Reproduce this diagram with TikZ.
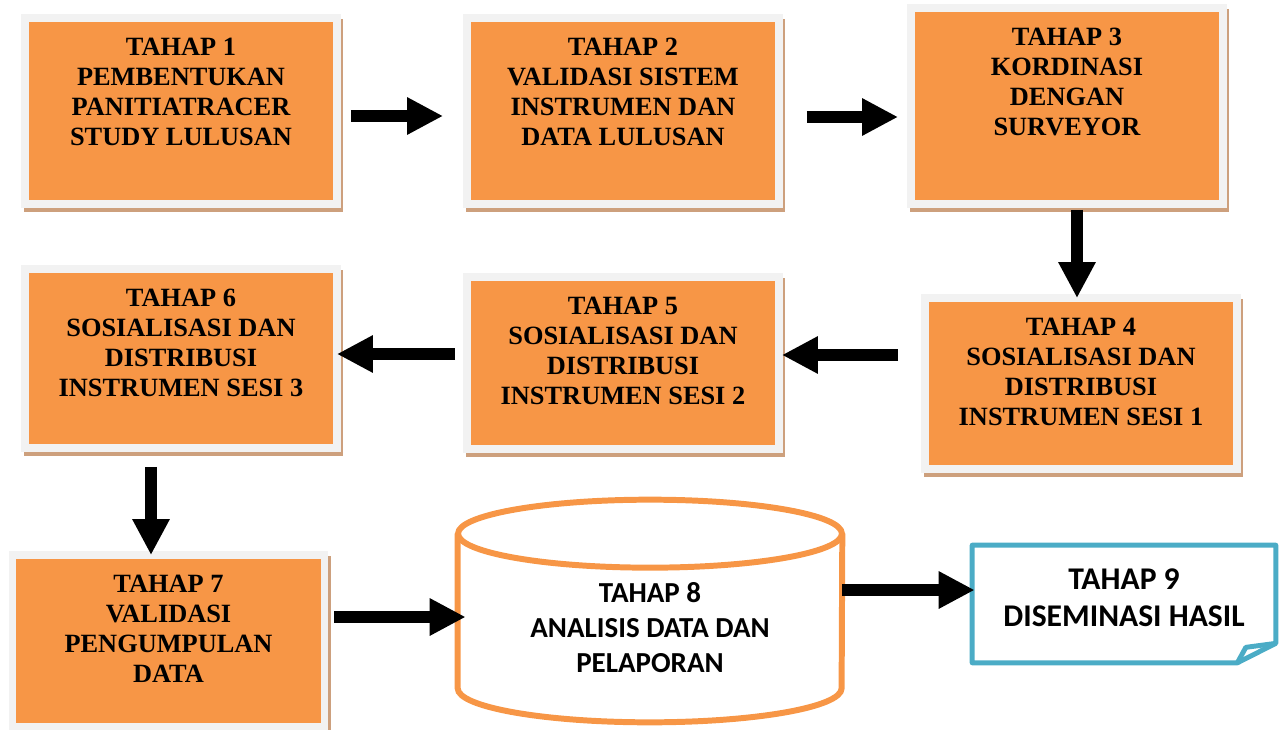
\documentclass[tikz,border=0pt]{standalone}
\usepackage{fontspec}
\setmainfont{Liberation Serif}
\newfontfamily\calibrifont{Carlito}
\usetikzlibrary{arrows.meta}
\usetikzlibrary{shadows}

\definecolor{stageorange}{RGB}{247,150,70}
\definecolor{framegrey}{RGB}{242,242,242}
\definecolor{shadowtan}{RGB}{205,160,125}
\definecolor{foldblue}{RGB}{75,172,198}

\newcommand{\stagetext}[2]{\parbox[c][#1][t]{6.24cm}{\fontsize{15pt}{17pt}\selectfont\bfseries\centering\vspace*{11.5pt}#2}}

\tikzset{
  stagebox/.style={draw=framegrey, line width=4.5pt, fill=stageorange, inner sep=0pt,
    drop shadow={shadow xshift=0.05cm, shadow yshift=-0.09cm, fill=shadowtan, draw=shadowtan, opacity=1}},
  blockarrow/.style={line width=6.8pt, -{Triangle[length=0.72cm, width=0.7cm]}},
  cylline/.style={draw=stageorange, line width=3.4pt},
  foldline/.style={draw=foldblue, line width=2.8pt, line join=round},
}

\begin{document}
\begin{tikzpicture}[x=0.02cm, y=-0.02cm]
\useasboundingbox (0,0) rectangle (1282,730);

\node[stagebox] (b1) at (181,111) {\stagetext{3.72cm}{TAHAP 1\\PEMBENTUKAN\\PANITIATRACER\\STUDY LULUSAN}};
\node[stagebox] (b2) at (623,111) {\stagetext{3.72cm}{TAHAP 2\\VALIDASI SISTEM\\INSTRUMEN DAN\\DATA LULUSAN}};
\node[stagebox] (b3) at (1067,106) {\stagetext{3.92cm}{TAHAP 3\\KORDINASI\\DENGAN\\SURVEYOR}};

\node[stagebox] (b4) at (1081,383.5) {\stagetext{3.42cm}{TAHAP 4\\SOSIALISASI DAN\\DISTRIBUSI\\INSTRUMEN SESI 1}};
\node[stagebox] (b5) at (623,363) {\stagetext{3.44cm}{TAHAP 5\\SOSIALISASI DAN\\DISTRIBUSI\\INSTRUMEN SESI 2}};
\node[stagebox] (b6) at (181,358.5) {\stagetext{3.58cm}{TAHAP 6\\SOSIALISASI DAN\\DISTRIBUSI\\INSTRUMEN SESI 3}};

\node[stagebox] (b7) at (168.5,641) {\stagetext{3.44cm}{TAHAP 7\\VALIDASI\\PENGUMPULAN\\DATA}};

% tahap 8 (silinder)
\node[inner sep=0pt, minimum width=7.68cm, minimum height=3.08cm] (t8) at (650,611)
  {\parbox[c][2.48cm][b]{7.6cm}{\calibrifont\fontsize{16.5pt}{20pt}\selectfont\bfseries\centering TAHAP 8\\ANALISIS DATA DAN\\PELAPORAN}};
\draw[cylline] (t8.north west) -- (t8.south west) arc[start angle=180, end angle=360, x radius=3.84cm, y radius=0.68cm] -- (t8.north east);
\draw[cylline] (t8.north) ellipse[x radius=3.84cm, y radius=0.68cm];

% tahap 9 (sudut terlipat)
\node[inner sep=0pt, minimum width=6.06cm, minimum height=2.34cm] (t9) at (1124,604)
  {\parbox[c][2.34cm][t]{6.06cm}{\calibrifont\fontsize{18pt}{21pt}\selectfont\bfseries\centering\vspace*{13.5pt}TAHAP 9\\DISEMINASI HASIL}};
\draw[foldline] (t9.north west) -- (t9.north east) -- ([yshift=0.39cm]t9.south east) -- ([xshift=-0.77cm]t9.south east) -- (t9.south west) -- cycle;
\draw[foldline] ([xshift=-0.77cm]t9.south east) .. controls ([xshift=-0.66cm, yshift=0.2cm]t9.south east) .. ([xshift=-0.6cm, yshift=0.31cm]t9.south east) -- ([yshift=0.39cm]t9.south east);

\coordinate (p12) at ([yshift=-0.1cm]b2.west);
\coordinate (p23) at ([yshift=-0.12cm]b2.east);
\coordinate (p34) at ([xshift=0.2cm]b3.south);
\coordinate (p45) at ([yshift=0.16cm]b5.east);
\coordinate (p56) at ([yshift=0.18cm]b5.west);
\coordinate (p67) at ([xshift=-0.6cm]b6.south);
\coordinate (p78) at ([yshift=-0.12cm]t8.west);
\coordinate (p89) at ([yshift=0.42cm]t8.east);

\draw[blockarrow, shorten <=0.2cm, shorten >=0.4cm] (b1.east |- p12) -- (p12);
\draw[blockarrow, shorten <=0.48cm, shorten >=0.18cm] (p23) -- (p23 -| b3.west);
\draw[blockarrow, shorten <=0.04cm, shorten >=-0.08cm] (p34) -- (p34 |- b4.north);
\draw[blockarrow, shorten <=0.46cm, shorten >=-0.02cm] (p45 -| b4.west) -- (p45);
\draw[blockarrow, shorten <=0.16cm, shorten >=-0.08cm] (p56) -- (p56 -| b6.east);
\draw[blockarrow, shorten <=0.3cm, shorten >=-0.08cm] (p67) -- (p67 |- b7.north);
\draw[blockarrow, shorten <=0.12cm, shorten >=-0.16cm] (b7.east |- p78) -- (p78);
\draw[blockarrow, shorten >=-0.05cm] (p89) -- (p89 -| t9.west);
\end{tikzpicture}
\end{document}
